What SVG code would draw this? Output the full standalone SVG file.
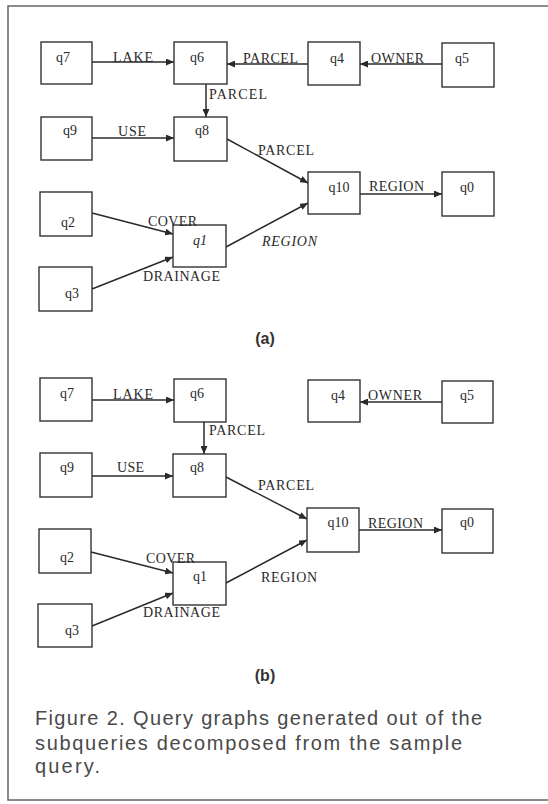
<svg xmlns="http://www.w3.org/2000/svg" width="548" height="804" viewBox="0 0 548 804">
<defs>
<marker id="ah" markerUnits="userSpaceOnUse" markerWidth="8" markerHeight="7" refX="8" refY="3.5" orient="auto">
<path d="M0,0 L8,3.5 L0,7 z" fill="#2a2a2a"/>
</marker>
<style>
.n rect{fill:#fff;stroke:#333;stroke-width:1.4}
.n text,.lb{font-family:"Liberation Serif","Times New Roman",serif;font-size:14px;fill:#2a2a2a}
.n text{text-anchor:middle}
#edges line{stroke:#2a2a2a;stroke-width:1.5;marker-end:url(#ah)}
.cap{font-family:"Liberation Sans",Arial,sans-serif;font-size:20px;fill:#4a4a4a}
.sub{font-family:"Liberation Sans",Arial,sans-serif;font-size:16px;font-weight:bold;fill:#333;text-anchor:middle}
</style>
</defs>
<rect width="548" height="804" fill="#fff"/>
<path d="M548,6 H8 V800 H548" fill="none" stroke="#666" stroke-width="1.5"/>

<!-- (a) -->
<g id="edges">
<line x1="92" y1="62" x2="174" y2="62"/>
<line x1="308" y1="64" x2="227" y2="64"/>
<line x1="442" y1="64" x2="360" y2="64"/>
<line x1="206" y1="84" x2="206" y2="117"/>
<line x1="92" y1="138" x2="174" y2="138"/>
<line x1="227" y1="139" x2="308" y2="183"/>
<line x1="360" y1="194" x2="442" y2="194"/>
<line x1="92" y1="213" x2="173" y2="234"/>
<line x1="92" y1="289" x2="173" y2="257"/>
<line x1="226" y1="247" x2="308" y2="203"/>
<!-- (b) -->
<line x1="92" y1="400" x2="174" y2="400"/>
<line x1="442" y1="402" x2="360" y2="402"/>
<line x1="204" y1="422" x2="204" y2="454"/>
<line x1="92" y1="476" x2="173" y2="476"/>
<line x1="226" y1="477" x2="307" y2="519"/>
<line x1="359" y1="530" x2="442" y2="530"/>
<line x1="91" y1="552" x2="173" y2="573"/>
<line x1="92" y1="626" x2="173" y2="593"/>
<line x1="226" y1="583" x2="307" y2="540"/>
</g>

<g id="a-q7" class="n"><rect x="41" y="42" width="51" height="42"/><text x="63" y="62">q7</text></g>
<g id="a-q6" class="n"><rect x="174" y="42" width="53" height="42"/><text x="197" y="62">q6</text></g>
<g id="a-q4" class="n"><rect x="308" y="42" width="52" height="43"/><text x="337" y="63">q4</text></g>
<g id="a-q5" class="n"><rect x="442" y="43" width="52" height="44"/><text x="462" y="63">q5</text></g>
<g id="a-q9" class="n"><rect x="41" y="117" width="51" height="43"/><text x="70" y="135">q9</text></g>
<g id="a-q8" class="n"><rect x="174" y="117" width="53" height="44"/><text x="202" y="135">q8</text></g>
<g id="a-q10" class="n"><rect x="308" y="172" width="52" height="42"/><text x="339" y="192">q10</text></g>
<g id="a-q0" class="n"><rect x="442" y="172" width="52" height="44"/><text x="467" y="192">q0</text></g>
<g id="a-q2" class="n"><rect x="40" y="192" width="52" height="44"/><text x="68" y="227">q2</text></g>
<g id="a-q1" class="n"><rect x="173" y="225" width="53" height="42"/><text x="200" y="245" font-style="italic">q1</text></g>
<g id="a-q3" class="n"><rect x="39" y="267" width="53" height="44"/><text x="72" y="298">q3</text></g>

<g id="a-labels">
<text class="lb" x="113" y="62" textLength="40">LAKE</text>
<text class="lb" x="243" y="63" textLength="55">PARCEL</text>
<text class="lb" x="371" y="63" textLength="53">OWNER</text>
<text class="lb" x="209" y="99" textLength="58">PARCEL</text>
<text class="lb" x="118" y="136" textLength="28">USE</text>
<text class="lb" x="258" y="155" textLength="56">PARCEL</text>
<text class="lb" x="369" y="191" textLength="55">REGION</text>
<text class="lb" x="148" y="226" textLength="49">COVER</text>
<text class="lb" x="143" y="281" textLength="77">DRAINAGE</text>
<text class="lb" x="262" y="246" textLength="55" font-style="italic">REGION</text>
</g>
<text class="sub" x="265" y="344">(a)</text>

<g id="b-q7" class="n"><rect x="40" y="378" width="52" height="43"/><text x="67" y="398">q7</text></g>
<g id="b-q6" class="n"><rect x="174" y="379" width="52" height="43"/><text x="197" y="398">q6</text></g>
<g id="b-q4" class="n"><rect x="308" y="380" width="52" height="42"/><text x="338" y="400">q4</text></g>
<g id="b-q5" class="n"><rect x="442" y="381" width="51" height="42"/><text x="467" y="400">q5</text></g>
<g id="b-q9" class="n"><rect x="40" y="453" width="52" height="44"/><text x="67" y="472">q9</text></g>
<g id="b-q8" class="n"><rect x="173" y="454" width="53" height="43"/><text x="197" y="472">q8</text></g>
<g id="b-q10" class="n"><rect x="307" y="508" width="52" height="44"/><text x="338" y="527">q10</text></g>
<g id="b-q0" class="n"><rect x="442" y="509" width="51" height="44"/><text x="467" y="527">q0</text></g>
<g id="b-q2" class="n"><rect x="39" y="529" width="52" height="44"/><text x="67" y="562">q2</text></g>
<g id="b-q1" class="n"><rect x="173" y="562" width="53" height="43"/><text x="200" y="581">q1</text></g>
<g id="b-q3" class="n"><rect x="38" y="604" width="54" height="43"/><text x="72" y="635">q3</text></g>

<g id="b-labels">
<text class="lb" x="113" y="399" textLength="40">LAKE</text>
<text class="lb" x="368" y="400" textLength="54">OWNER</text>
<text class="lb" x="209" y="435" textLength="56">PARCEL</text>
<text class="lb" x="117" y="472" textLength="27">USE</text>
<text class="lb" x="258" y="490" textLength="56">PARCEL</text>
<text class="lb" x="368" y="528" textLength="55">REGION</text>
<text class="lb" x="146" y="563" textLength="49">COVER</text>
<text class="lb" x="143" y="617" textLength="77">DRAINAGE</text>
<text class="lb" x="261" y="582" textLength="56">REGION</text>
</g>
<text class="sub" x="265" y="681">(b)</text>

<g id="caption">
<text class="cap" x="35" y="725" textLength="447" lengthAdjust="spacing">Figure 2.  Query graphs generated out of the</text>
<text class="cap" x="35" y="750" textLength="427" lengthAdjust="spacing">subqueries decomposed from the sample</text>
<text class="cap" x="35" y="773" textLength="65" lengthAdjust="spacing">query.</text>
</g>
</svg>
